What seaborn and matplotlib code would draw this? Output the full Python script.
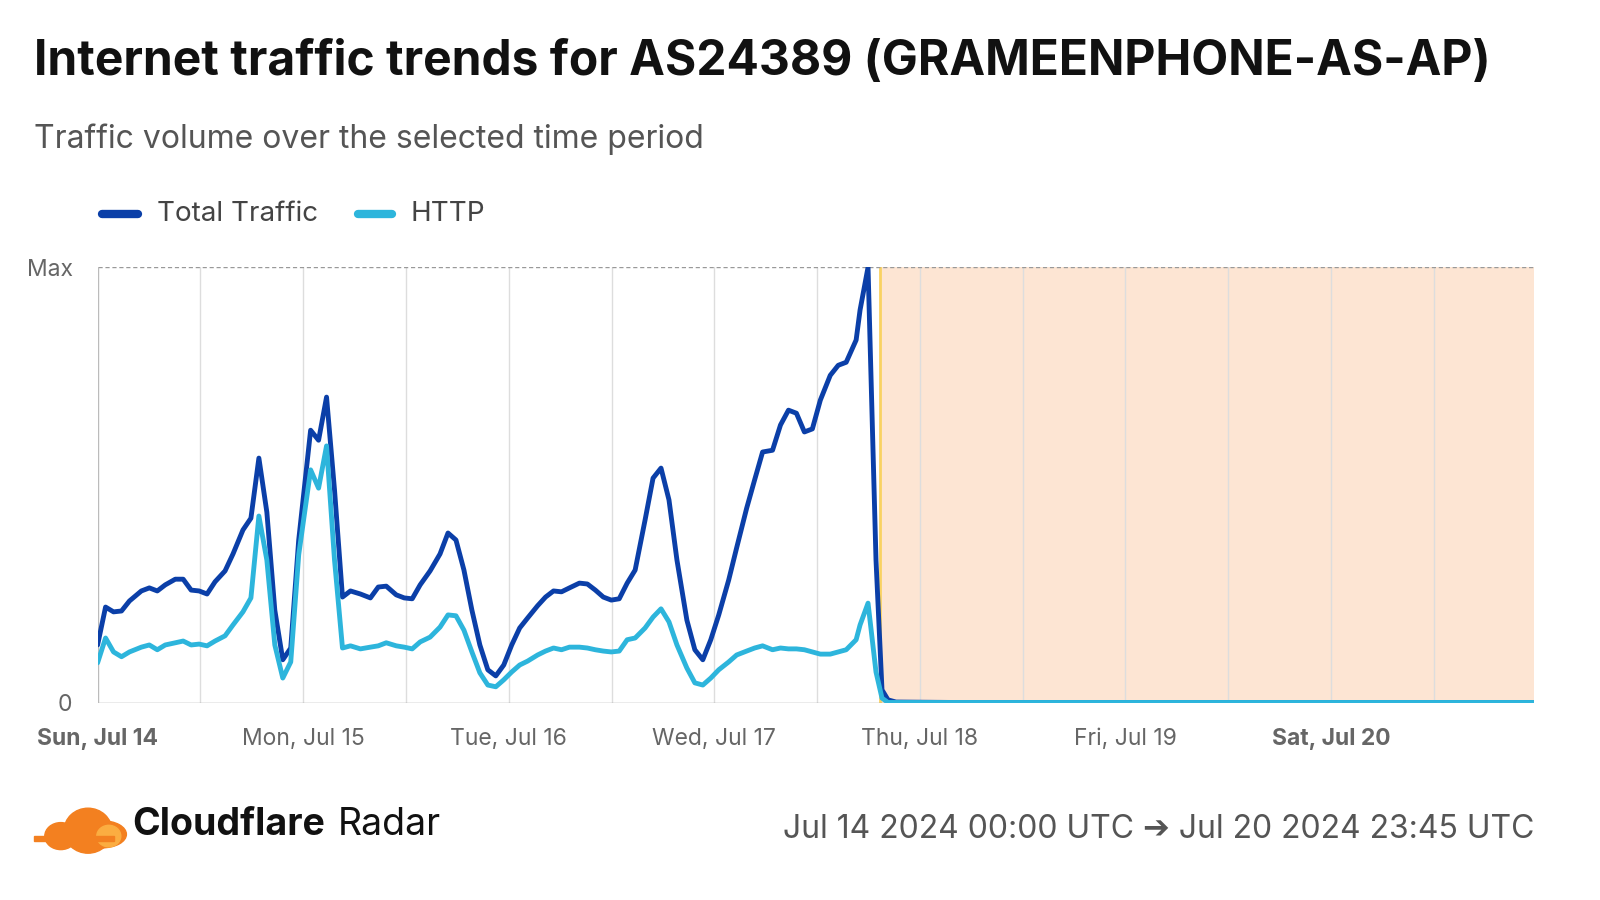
import matplotlib.pyplot as plt
import seaborn as sns
import pandas as pd
from matplotlib.patches import Ellipse

# hours since Jul 14 00:00 UTC
hours = [0, 0.93, 1.86, 2.79, 3.72, 5.11, 6.04, 6.97, 7.90, 9.07, 9.99, 10.92, 11.85, 12.78,
         13.71, 14.88, 15.81, 16.97, 17.90, 18.83, 19.76, 20.69, 21.62, 22.55, 23.48, 24.87,
         25.80, 26.73, 27.66, 28.59, 29.52, 30.68, 31.85, 32.77, 33.70, 34.87, 35.80, 36.73,
         37.66, 38.82, 39.98, 40.91, 41.84, 42.77, 43.70, 44.63, 45.56, 46.49, 47.42, 48.35,
         49.28, 50.21, 51.37, 52.30, 53.23, 54.16, 55.09, 56.25, 57.18, 58.11, 59.04, 59.97,
         60.90, 61.83, 62.76, 63.92, 64.85, 65.78, 66.71, 67.64, 68.80, 69.73, 70.66, 71.59,
         72.52, 73.68, 74.61, 75.78, 76.71, 77.64, 78.80, 79.73, 80.66, 81.59, 82.52, 83.45,
         84.38, 85.54, 86.47, 87.40, 88.56, 89.02, 89.95, 90.88, 91.58, 92.28, 93.21,
         100, 120, 140, 167.75]
total = [13.3, 22.0, 20.9, 21.1, 23.4, 25.7, 26.4, 25.7, 27.1, 28.4, 28.4, 25.9, 25.7, 25.0,
         27.8, 30.3, 34.2, 39.7, 42.4, 56.2, 43.8, 21.3, 9.9, 12.6, 37.4, 62.6, 60.3, 70.2,
         48.9, 24.3, 25.7, 25.0, 24.1, 26.6, 26.8, 24.8, 24.1, 23.9, 27.1, 30.3, 34.2, 39.0,
         37.4, 30.5, 21.3, 13.3, 7.6, 6.2, 8.7, 13.3, 17.2, 19.5, 22.3, 24.3, 25.7, 25.5, 26.4,
         27.5, 27.3, 25.9, 24.3, 23.6, 23.9, 27.5, 30.5, 42.0, 51.6, 53.9, 46.6, 32.8, 19.0,
         12.2, 9.9, 14.5, 20.2, 28.2, 35.6, 44.7, 51.2, 57.6, 58.0, 63.8, 67.2, 66.5, 62.2,
         62.9, 69.5, 75.2, 77.5, 78.2, 83.3, 90.2, 100, 32.8, 3.0, 0.7, 0.2,
         0.1, 0.1, 0.1, 0.1]
http = [9.2, 14.9, 11.7, 10.6, 11.7, 12.8, 13.3, 12.2, 13.3, 13.8, 14.2, 13.3, 13.5, 13.1,
        14.2, 15.4, 17.9, 20.9, 24.1, 42.9, 32.8, 13.3, 5.7, 9.4, 34.0, 53.5, 49.3, 59.0,
        32.8, 12.6, 13.1, 12.4, 12.8, 13.1, 13.8, 13.1, 12.8, 12.4, 14.0, 15.1, 17.4, 20.2,
        20.0, 16.7, 11.7, 6.9, 4.1, 3.7, 5.3, 7.1, 8.7, 9.6, 11.0, 11.9, 12.6, 12.2, 12.8,
        12.8, 12.6, 12.2, 11.9, 11.7, 11.9, 14.5, 14.9, 17.2, 19.7, 21.6, 18.6, 13.3, 8.0,
        4.6, 4.1, 5.7, 7.6, 9.4, 11.0, 11.9, 12.6, 13.1, 12.2, 12.6, 12.4, 12.4, 12.2,
        11.7, 11.2, 11.2, 11.7, 12.2, 14.5, 17.9, 22.9, 7.1, 1.1, 0.1, 0.1,
        0.1, 0.1, 0.1, 0.1]
day_labels = ["Sun, Jul 14", "Mon, Jul 15", "Tue, Jul 16", "Wed, Jul 17",
              "Thu, Jul 18", "Fri, Jul 19", "Sat, Jul 20"]
shade_start = 91.35
end_hour = 167.75

df = pd.DataFrame({"hour": hours, "Total Traffic": total, "HTTP": http})
long = df.melt("hour", var_name="series", value_name="value")

sns.set_style("white")
plt.rcParams["font.family"] = ["Inter", "DejaVu Sans"]

fig = plt.figure(figsize=(16, 9), dpi=100)
ax = fig.add_axes([0.061, 0.219, 0.898, 0.484])

ax.axvspan(shade_start, end_hour, color="#FDE5D3", zorder=0, lw=0)
ax.axvline(shade_start, color="#F9D262", lw=2, zorder=1)
for h in range(12, 168, 12):
    ax.axvline(h, color="#DDDDDD", lw=1, zorder=0.5)

sns.lineplot(data=long, x="hour", y="value", hue="series",
             palette={"Total Traffic": "#0B3FA8", "HTTP": "#2DB5DC"},
             hue_order=["Total Traffic", "HTTP"], lw=3.5, legend=False, ax=ax, zorder=3)

ax.set_xlim(0, end_hour)
ax.set_ylim(0, 100)
ax.axhline(100, color="#999999", lw=1, ls=(0, (3, 2)), zorder=1)
ax.axhline(0, color="#999999", lw=1, zorder=1)
for s in ax.spines.values():
    s.set_visible(False)
ax.axvline(0, color="#BBBBBB", lw=1, zorder=1)

ax.set_yticks([0, 100])
ax.set_yticklabels(["0", "Max"], fontsize=16.5, color="#666666")
ax.set_xticks([24 * i for i in range(7)])
ax.set_xticklabels(day_labels, fontsize=16.5, color="#666666")
for i, t in enumerate(ax.get_xticklabels()):
    if i in (0, 6):
        t.set_fontweight("bold")
ax.tick_params(axis="x", length=8, width=1, color="#999999", pad=10)
ax.tick_params(axis="y", length=0, pad=18)
ax.set_xlabel("")
ax.set_ylabel("")

fig.text(0.021, 0.931, "Internet traffic trends for AS24389 (GRAMEENPHONE-AS-AP)",
         fontsize=34.5, fontweight="bold", color="#111111", va="center")
fig.text(0.021, 0.845, "Traffic volume over the selected time period",
         fontsize=23, color="#555555", va="center")

# legend
fig.add_artist(plt.Line2D([0.064, 0.086], [0.762, 0.762], color="#0B3FA8", lw=6,
                          solid_capstyle="round"))
fig.text(0.098, 0.762, "Total Traffic", fontsize=20, color="#444444", va="center")
fig.add_artist(plt.Line2D([0.224, 0.245], [0.762, 0.762], color="#2DB5DC", lw=6,
                          solid_capstyle="round"))
fig.text(0.2565, 0.762, "HTTP", fontsize=20, color="#444444", va="center")

# footer logo
for cx, cy, w, h in [(0.055, 0.077, 0.030, 0.05), (0.038, 0.071, 0.02, 0.03),
                     (0.064, 0.073, 0.03, 0.03)]:
    fig.add_artist(Ellipse((cx, cy), w, h, color="#F38020"))
fig.add_artist(Ellipse((0.068, 0.071), 0.015, 0.024, color="#FBAD41"))
fig.add_artist(plt.Rectangle((0.021, 0.066), 0.05, 0.005, color="#F38020"))
fig.text(0.0825, 0.083, "Cloudflare", fontsize=27, fontweight="bold", color="#111111", va="center")
fig.text(0.211, 0.083, "Radar", fontsize=27, color="#111111", va="center")
fig.text(0.959, 0.078, "Jul 14 2024 00:00 UTC ➔ Jul 20 2024 23:45 UTC",
         fontsize=23, color="#555555", va="center", ha="right")

fig.savefig("out.png", dpi=100)
